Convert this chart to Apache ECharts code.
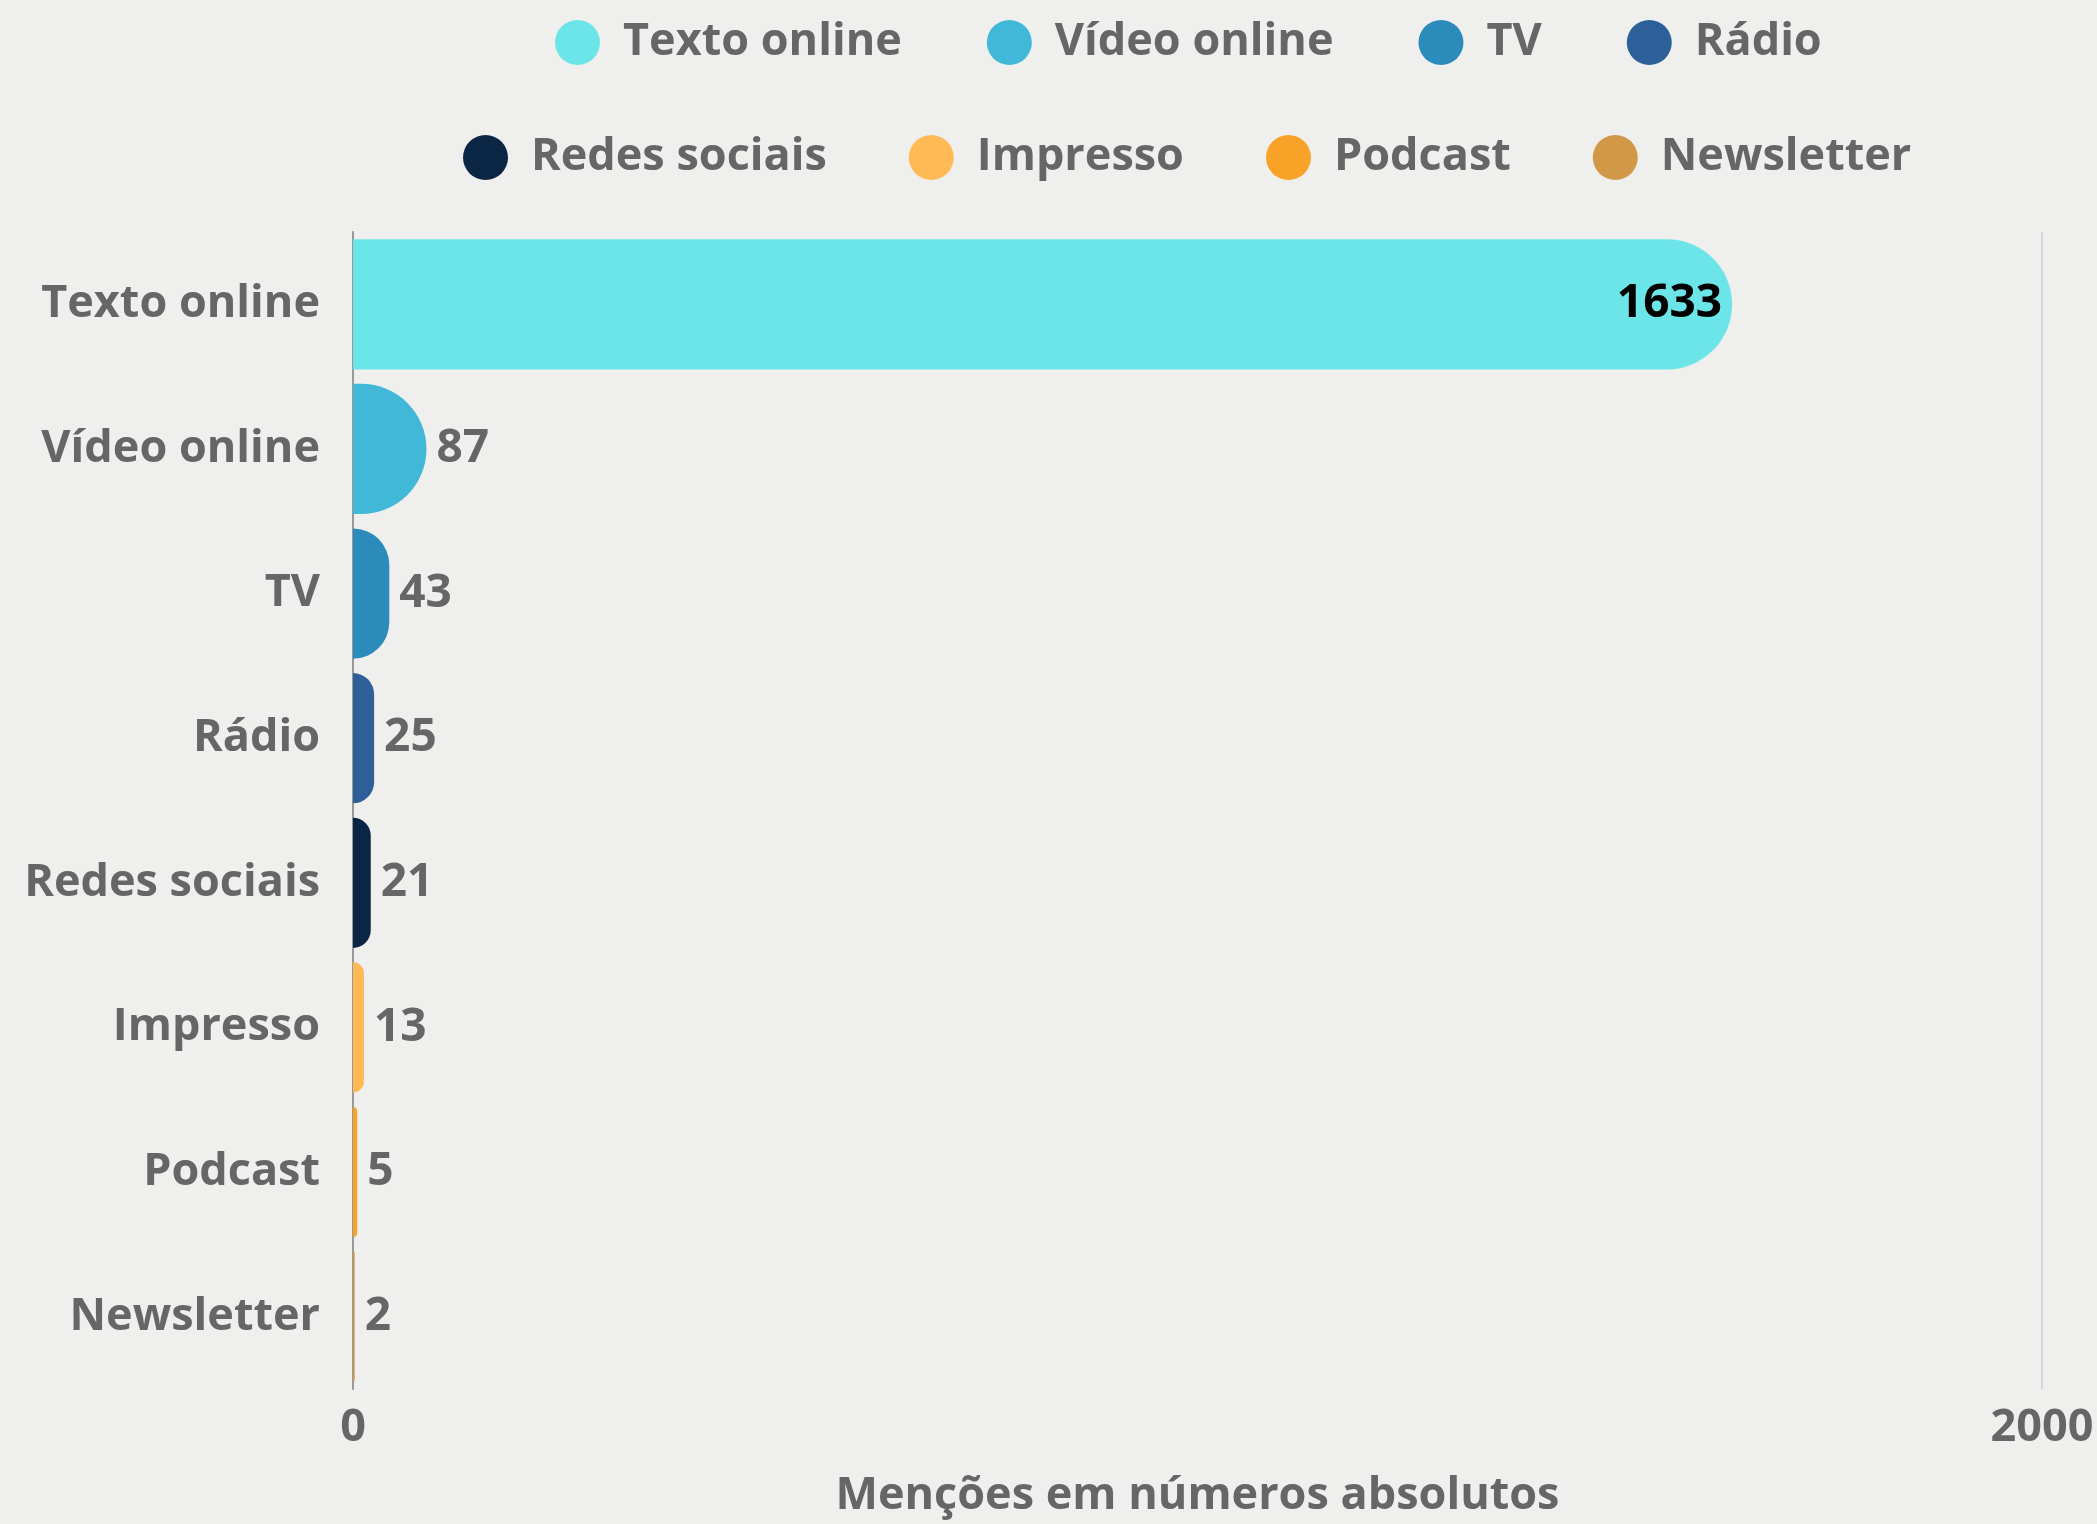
<!DOCTYPE html>
<html>
<head>
<meta charset="utf-8">
<script src="https://cdn.jsdelivr.net/npm/echarts@6/dist/echarts.min.js"></script>
<style>
  html, body { margin: 0; padding: 0; background: #efefed; }
  #chart { width: 2097px; height: 1524px; }
</style>
</head>
<body>
<div id="chart"></div>
<script>
// categorias e valores (menções)
var categories = ['Texto online', 'Vídeo online', 'TV', 'Rádio', 'Redes sociais', 'Impresso', 'Podcast', 'Newsletter'];
var values = [1633, 87, 43, 25, 21, 13, 5, 2];
var colors = ['#6ce5e8', '#42b8d8', '#2b8bbb', '#2d5f98', '#0b2545', '#ffb955', '#f8a227', '#d19847'];
var xTicks = [0, 2000];

var FONT = '"Open Sans", "Noto Sans", sans-serif';
var GRAY = '#666666';

var myChart = echarts.init(document.getElementById('chart'));

// uma série por categoria, empilhadas para ficarem na mesma linha
var series = categories.map(function (name, i) {
    return {
        name: name,
        type: 'bar',
        stack: 'total',
        barCategoryGap: '10%',
        itemStyle: {
            color: colors[i],
            borderRadius: [0, 200, 200, 0]
        },
        label: {
            show: true,
            position: i === 0 ? 'insideRight' : 'right',
            distance: 10,
            color: i === 0 ? '#000' : GRAY,
            fontFamily: FONT,
            fontWeight: 'bold',
            fontSize: 46
        },
        data: categories.map(function (c, j) { return j === i ? values[i] : '-'; })
    };
});

var legendText = {
    color: GRAY,
    fontFamily: FONT,
    fontWeight: 'bold',
    fontSize: 45,
    padding: [0, 0, 0, 18]
};

myChart.setOption({
    backgroundColor: '#efefed',
    animation: false,
    legend: [
        {
            data: categories.slice(0, 4),
            top: 20,
            left: 555,
            padding: 0,
            icon: 'circle',
            itemWidth: 45,
            itemHeight: 45,
            itemGap: 85,
            textStyle: legendText
        },
        {
            data: categories.slice(4),
            top: 135,
            left: 463,
            padding: 0,
            icon: 'circle',
            itemWidth: 45,
            itemHeight: 45,
            itemGap: 82,
            textStyle: legendText
        }
    ],
    grid: {
        left: 353,
        right: 55,
        top: 232,
        bottom: 125,
        containLabel: false
    },
    xAxis: {
        type: 'value',
        min: xTicks[0],
        max: xTicks[1],
        interval: xTicks[1] - xTicks[0],
        name: 'Menções em números absolutos',
        nameLocation: 'middle',
        nameGap: 85,
        nameTextStyle: {
            color: GRAY,
            fontFamily: FONT,
            fontWeight: 'bold',
            fontSize: 45
        },
        axisLine: { show: false },
        axisTick: { show: false },
        axisLabel: {
            color: GRAY,
            fontFamily: FONT,
            fontWeight: 'bold',
            fontSize: 45,
            margin: 17,
            formatter: function (v) { return String(v); }
        },
        splitLine: {
            show: true,
            lineStyle: { color: '#cccccc', width: 1.5 }
        }
    },
    yAxis: {
        type: 'category',
        inverse: true,
        data: categories,
        axisLine: {
            show: true,
            lineStyle: { color: '#999999', width: 2 }
        },
        axisTick: { show: false },
        axisLabel: {
            color: GRAY,
            fontFamily: FONT,
            fontWeight: 'bold',
            fontSize: 45,
            margin: 33
        }
    },
    series: series
});
</script>
</body>
</html>
